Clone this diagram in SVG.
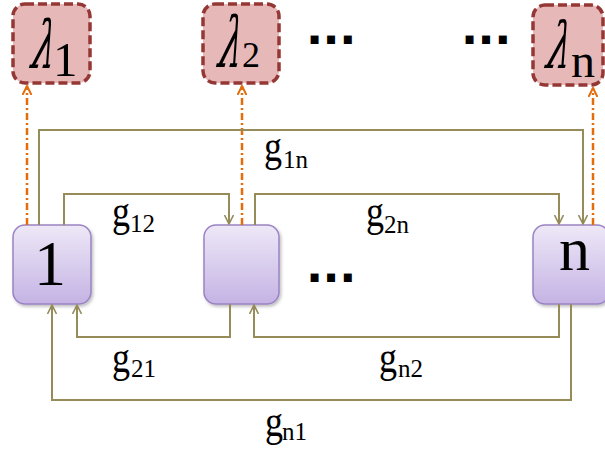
<svg xmlns="http://www.w3.org/2000/svg" width="605" height="455" viewBox="0 0 605 455">
<defs>
<linearGradient id="ng" x1="0" y1="0" x2="0" y2="1">
<stop offset="0" stop-color="#EEE8F7"/>
<stop offset="1" stop-color="#C4B3E4"/>
</linearGradient>
<marker id="oa" viewBox="0 0 10 10" refX="9" refY="5" markerWidth="10" markerHeight="10" markerUnits="userSpaceOnUse" orient="auto">
<path d="M0,0.5 L9,5 L0,9.5" fill="none" stroke="#958C5A" stroke-width="1.6"/>
</marker>
<marker id="ra" viewBox="0 0 10 10" refX="9" refY="5" markerWidth="10" markerHeight="10" markerUnits="userSpaceOnUse" orient="auto">
<path d="M0,0.5 L9,5 L0,9.5" fill="none" stroke="#E46C0A" stroke-width="2"/>
</marker>
<filter id="sh" x="-10%" y="-10%" width="130%" height="130%">
<feDropShadow dx="1.5" dy="2" stdDeviation="1.5" flood-color="#000" flood-opacity="0.25"/>
</filter>
</defs>
<style>
.lam{fill:#E6B9B8;stroke:#953735;stroke-width:3.5;stroke-dasharray:9 4}
.node{fill:url(#ng);stroke:#9A83C2;stroke-width:1.5}
.con{fill:none;stroke:#958C5A;stroke-width:2;marker-end:url(#oa)}
.obs{fill:none;stroke:#E46C0A;stroke-width:2.5;stroke-dasharray:7 3 2 3;marker-end:url(#ra)}
.t{font-family:"Liberation Serif",serif;fill:#000}
.it{font-family:"DejaVu Serif",serif;font-style:italic;fill:#000}
.dots{font-family:"DejaVu Sans",sans-serif;font-weight:bold;fill:#000}
</style>

<g id="lambda1"><rect class="lam" x="13" y="4" width="77" height="79" rx="12"/>
<text class="it" font-size="66" transform="translate(30,68) scale(0.55,1) skewX(-18)">λ</text>
<text class="t" font-size="49" x="53" y="76">1</text></g>
<g id="lambda2"><rect class="lam" x="203" y="4" width="76" height="79" rx="12"/>
<text class="it" font-size="70" transform="translate(217,67) scale(0.52,1) skewX(-18)">λ</text>
<text class="t" font-size="36" x="242" y="67">2</text></g>
<g id="lambdan"><rect class="lam" x="533" y="5" width="70" height="80" rx="12"/>
<text class="it" font-size="64" transform="translate(545,68) scale(0.58,1) skewX(-18)">λ</text>
<text class="t" font-size="48" x="571" y="77">n</text></g>

<g id="node1"><rect class="node" filter="url(#sh)" x="13" y="225" width="78" height="79" rx="12"/>
<text class="t" font-size="64" x="34" y="285">1</text></g>
<g id="node2"><rect class="node" filter="url(#sh)" x="204" y="225" width="75" height="79" rx="12"/></g>
<g id="noden"><rect class="node" filter="url(#sh)" x="533" y="225" width="76" height="79" rx="12"/>
<text class="t" font-size="62" x="559" y="270">n</text></g>

<g id="connectors">
<path class="obs" d="M27,225 V86"/>
<path class="obs" d="M242,225 V86"/>
<path class="obs" d="M593,225 V88"/>
<path class="con" d="M39,225 V130 H583 V224"/>
<path class="con" d="M64,225 V194 H229 V224"/>
<path class="con" d="M255,225 V194 H559 V224"/>
<path class="con" d="M230,304 V337 H77 V305"/>
<path class="con" d="M559,304 V337 H254 V305"/>
<path class="con" d="M571,304 V400 H52 V305"/>
</g>

<g id="labels">
<text class="t" font-size="44" transform="translate(112,226) scale(0.82,1)">g</text>
<text class="t" font-size="25" x="130" y="232">12</text>
<text class="t" font-size="44" transform="translate(264,161) scale(0.82,1)">g</text>
<text class="t" font-size="25" x="283" y="168">1n</text>
<text class="t" font-size="44" transform="translate(366,226) scale(0.82,1)">g</text>
<text class="t" font-size="25" x="384" y="233">2n</text>
<text class="t" font-size="44" transform="translate(112,372) scale(0.82,1)">g</text>
<text class="t" font-size="25" x="131" y="377">21</text>
<text class="t" font-size="44" transform="translate(379,372) scale(0.82,1)">g</text>
<text class="t" font-size="25" x="398" y="377">n2</text>
<text class="t" font-size="44" transform="translate(265,436) scale(0.82,1)">g</text>
<text class="t" font-size="25" x="282" y="440">n1</text>
</g>

<g id="ellipses">
<text class="dots" font-size="45" x="306" y="43.5" letter-spacing="-0.5">...</text>
<text class="dots" font-size="45" x="461" y="43.5" letter-spacing="-0.5">...</text>
<text class="dots" font-size="45" x="306" y="282" letter-spacing="-0.5">...</text>
</g>
</svg>
